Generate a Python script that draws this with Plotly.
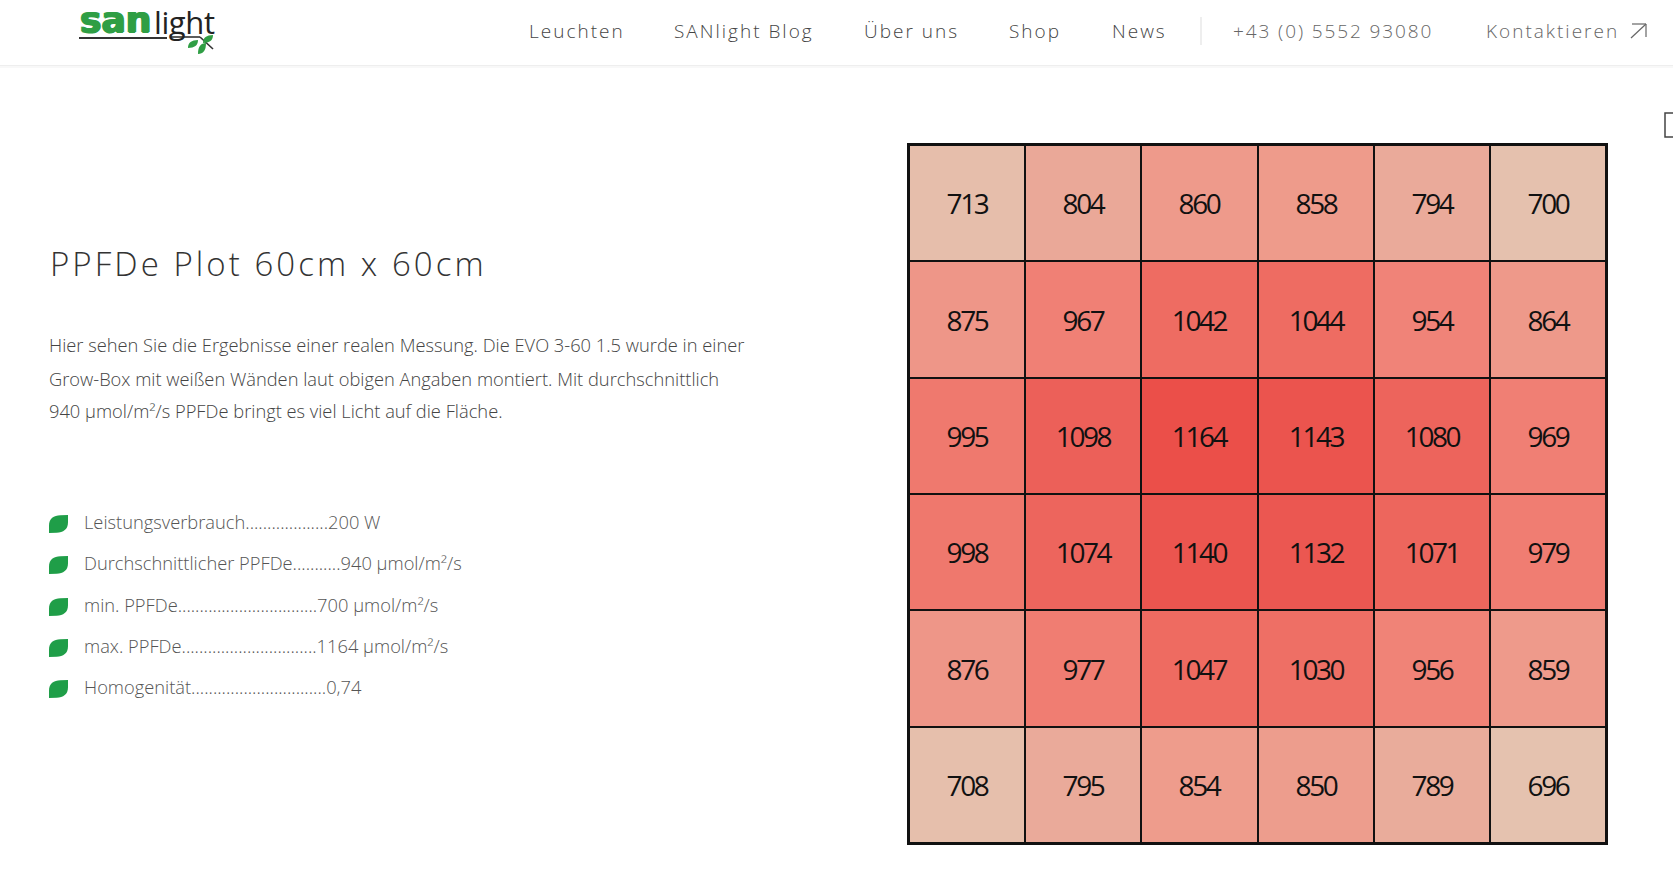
import plotly.graph_objects as go

W, H = 1673, 892

# ---- data ----
columns = [1, 2, 3, 4, 5, 6]
rows = [1, 2, 3, 4, 5, 6]
row1 = [713, 804, 860, 858, 794, 700]
row2 = [875, 967, 1042, 1044, 954, 864]
row3 = [995, 1098, 1164, 1143, 1080, 969]
row4 = [998, 1074, 1140, 1132, 1071, 979]
row5 = [876, 977, 1047, 1030, 956, 859]
row6 = [708, 795, 854, 850, 789, 696]
ppfd = [row1, row2, row3, row4, row5, row6]

nav_labels = ["Leuchten", "SANlight Blog", "Über uns", "Shop", "News", "+43 (0) 5552 93080", "Kontaktieren"]
title_text = "PPFDe Plot 60cm x 60cm"
body_lines = [
    "Hier sehen Sie die Ergebnisse einer realen Messung. Die EVO 3-60 1.5 wurde in einer",
    "Grow-Box mit weißen Wänden laut obigen Angaben montiert. Mit durchschnittlich",
    "940 µmol/m²/s PPFDe bringt es viel Licht auf die Fläche.",
]
spec_lines = [
    "Leistungsverbrauch...................200 W",
    "Durchschnittlicher PPFDe...........940 µmol/m²/s",
    "min. PPFDe................................700 µmol/m²/s",
    "max. PPFDe...............................1164 µmol/m²/s",
    "Homogenität...............................0,74",
]

# ---- layout constants ----
nav_x = [527, 672, 862, 1007, 1110, 1231, 1484]
nav_colors = ["#444", "#444", "#444", "#444", "#444", "#666", "#666"]
spec_y = [521, 562, 604, 645, 686]
leaf_y = [522, 563, 605, 646, 687]
body_y = [344, 378, 411]
LEAF = "#1f9e48"
LOGO = "#2f9e44"


def px(x):
    return x / W


def py(y):
    return 1 - y / H


def label(x, y, text, size, color="#333333", weight=300, family="Open Sans"):
    return dict(
        x=px(x), y=py(y), xref="paper", yref="paper", text=text, showarrow=False,
        xanchor="left", yanchor="middle", align="left",
        font=dict(family=family, size=size, color=color, weight=weight),
    )


def path_shape(d, fill):
    return dict(type="path", xref="paper", yref="paper", path=d, fillcolor=fill,
                line=dict(color="rgba(0,0,0,0)", width=0))


def rect(x0, y0, x1, y1, fill=None, line=None, width=0):
    return dict(type="rect", xref="paper", yref="paper", x0=px(x0), x1=px(x1), y0=py(y0), y1=py(y1),
                fillcolor=fill or "rgba(0,0,0,0)",
                line=dict(color=line or "rgba(0,0,0,0)", width=width))


def segment(x0, y0, x1, y1, color, width):
    return dict(type="line", xref="paper", yref="paper", x0=px(x0), x1=px(x1), y0=py(y0), y1=py(y1),
                line=dict(color=color, width=width))


def sprig(x, y, w, h, color):
    # slim leaf for the logo, pointed at bottom-left and top-right
    p = lambda a, b: f"{px(x + a * w):.5f},{py(y + b * h):.5f}"
    d = (f"M{p(0,1)} C{p(0,.3)} {p(.35,.03)} {p(1,0)} "
         f"C{p(1,.7)} {p(.65,.97)} {p(0,1)} Z")
    return path_shape(d, color)


def bullet(x, y, w, h, color):
    # fat leaf bullet: pointed corners bottom-left and top-right
    p = lambda a, b: f"{px(x + a * w):.5f},{py(y + b * h):.5f}"
    d = (f"M{p(0,1)} L{p(0,.6)} C{p(0,.2)} {p(.25,.03)} {p(.6,.02)} L{p(1,0)} "
         f"L{p(1,.4)} C{p(1,.8)} {p(.75,.97)} {p(.4,.98)} Z")
    return path_shape(d, color)


vmin, vmax = 696, 1164
stops = [(696, "#e5c2af"), (804, "#eaa898"), (860, "#ee9a8b"), (967, "#f08075"),
         (1042, "#ee6c62"), (1098, "#ec6059"), (1164, "#eb4f49")]
colorscale = [[(v - vmin) / (vmax - vmin), c] for v, c in stops]

fig = go.Figure(go.Heatmap(
    z=ppfd, x=columns, y=rows, zmin=vmin, zmax=vmax, colorscale=colorscale, showscale=False,
    xgap=2, ygap=2, texttemplate="%{z}", hoverinfo="skip",
    textfont=dict(family="Open Sans", size=28, color="#111111"),
))

annotations = [label(x, 31, t, 19, c) for x, t, c in zip(nav_x, nav_labels, nav_colors)]
annotations.append(label(48, 263, title_text, 33, "#333333"))
annotations += [label(47, y, t, 18.3, "#444444") for y, t in zip(body_y, body_lines)]
annotations += [label(82, y, t, 18.3, "#555555") for y, t in zip(spec_y, spec_lines)]
logo_san = label(78, 20, "san", 36, LOGO, 700, "DejaVu Sans")
logo_san["font"]["shadow"] = f"1px 0 0 {LOGO}, -1px 0 0 {LOGO}, 0 1px 0 {LOGO}"
annotations.append(logo_san)
annotations.append(label(152, 22, "light", 31, "#222222", 400))

shapes = [
    rect(0, 65, W, 66, "#eeeeee"),
    rect(0, 66, W, 68, "#f8f8f8"),
    segment(1201, 17, 1201, 45, "#dddddd", 1),
    segment(1631, 38, 1646, 24, "#666666", 1.2),
    segment(1632, 24, 1646, 24, "#666666", 1.2),
    segment(1646, 24, 1646, 37, "#666666", 1.2),
    rect(1665, 113, 1680, 137, None, "#444444", 1.5),
    segment(79, 38, 167, 38, "#333333", 2.2),
    segment(171, 37, 200, 37, "#333333", 1.6),
    segment(200, 37, 213, 49, "#333333", 1.6),
    sprig(188, 40, 10, 8, LOGO),
    sprig(198, 43, 8, 11, LOGO),
    sprig(203, 35, 10, 8, LOGO),
]
shapes += [bullet(49, y - 7, 19, 18, LEAF) for y in leaf_y]

axis = dict(showgrid=False, zeroline=False, showticklabels=False, ticks="", showline=True,
            mirror=True, linecolor="#111111", linewidth=2, fixedrange=True)

fig.update_layout(
    width=W, height=H, autosize=False,
    margin=dict(l=0, r=0, t=0, b=0, pad=0),
    paper_bgcolor="#ffffff", plot_bgcolor="#111111",
    xaxis=dict(domain=[px(909), px(1606)], **axis),
    yaxis=dict(domain=[py(843), py(145)], autorange="reversed", **axis),
    annotations=annotations, shapes=shapes, showlegend=False,
)

post = r"""
document.body.style.margin = '0';
document.body.style.overflow = 'hidden';
var spacing = [['Leuchten',2],['SANlight Blog',2],['Über uns',2],['Shop',2],['News',2],
  ['+43 (0) 5552 93080',1.9],['Kontaktieren',2],['PPFDe Plot',3.05],['light',-0.4]];
document.querySelectorAll('.annotation-text').forEach(function(t){
  spacing.forEach(function(s){ if(t.textContent.indexOf(s[0])===0){ t.style.letterSpacing = s[1]+'px'; } });
});
document.querySelectorAll('.heatmaplayer text, .hm text').forEach(function(t){
  t.style.letterSpacing='-2.4px'; t.style.transform='translateY(1px)';
});
"""
fig.write_html("out.html", config={"displayModeBar": False}, post_script=post)
